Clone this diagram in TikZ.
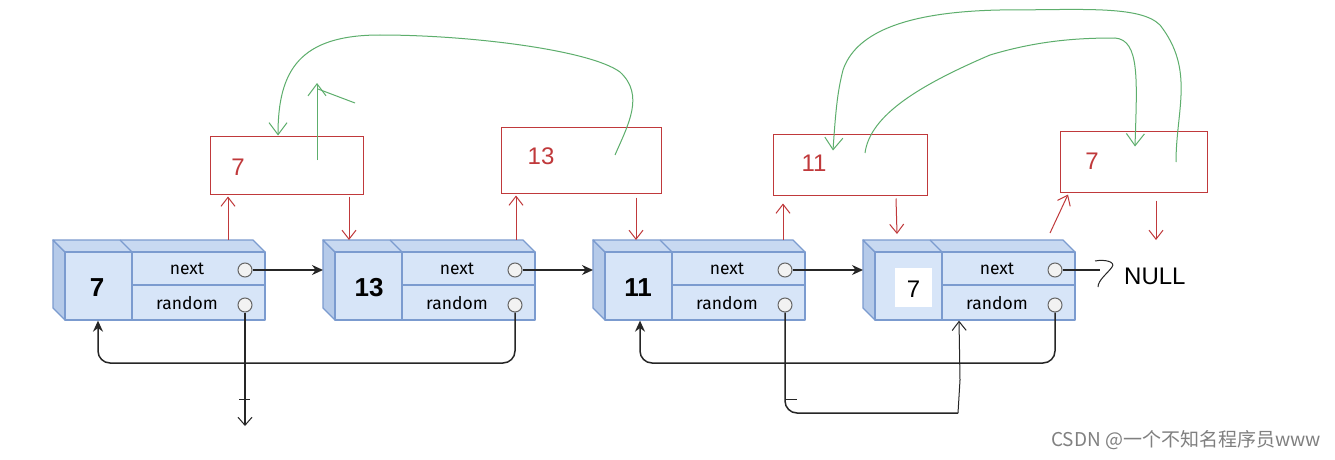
\documentclass[tikz,border=0pt]{standalone}
\usepackage{fontspec}
\setmainfont{Liberation Sans}
\newfontfamily\labfont{Fira Sans}
\newfontfamily\cjkfont{Noto Sans CJK SC}
\usetikzlibrary{arrows.meta}
\definecolor{boxfill}{HTML}{D7E5F8}
\definecolor{topfill}{HTML}{C8D9F1}
\definecolor{sidefill}{HTML}{B5CAE9}
\definecolor{boxline}{HTML}{7B9BCF}
\definecolor{redink}{HTML}{C0393B}
\definecolor{greenink}{HTML}{5DAE6C}
\tikzset{
  facestyle/.style={draw=boxline, line width=1.3pt, line join=round},
  frontface/.style={facestyle, fill=boxfill, rectangle, inner sep=0pt, minimum width=200pt, minimum height=68pt},
  valtext/.style={font=\bfseries\fontsize{26}{26}\selectfont, inner sep=0pt},
  fieldtext/.style={font=\labfont\fontsize{17.5}{17.5}\selectfont, inner sep=0pt},
  ptr/.style={circle, draw=black!60, fill=black!5, line width=1pt, minimum size=14pt, inner sep=0pt},
  blk/.style={draw=black!85, line width=1.5pt, -{Stealth[length=11pt,width=10pt]}},
  redbox/.style={draw=redink, line width=1pt, rectangle, inner sep=0pt},
  redtext/.style={text=redink, font=\fontsize{24}{24}\selectfont, inner sep=0pt},
  redarr/.style={draw=redink, line width=1pt, -{Straight Barb[length=9pt,width=14pt,line width=1pt]}},
  greenarr/.style={draw=greenink, line width=1pt, -{Straight Barb[length=12pt,width=18pt,line width=1pt]}},
}
\newcommand\listnode[3]{%
  \begin{scope}[xshift=#2]
    \filldraw[facestyle, fill=sidefill] (-12,240) -- (0,252) -- (0,320) -- (-12,308) -- cycle;
    \filldraw[facestyle, fill=topfill] (-12,240) -- (188,240) -- (200,252) -- (0,252) -- cycle;
    \draw[facestyle] (55,240) -- (67,252);
    \node[frontface] (#1) at (100,286) {};
    \draw[facestyle] (67,252) -- (67,320);
    \draw[facestyle] (67,285) -- (200,285);
    \node[fieldtext] (#1nt) at (122,269) {next};
    \node[fieldtext] (#1rt) at (122,303) {random};
    \node[ptr] (#1n) at (180,270) {};
    \node[ptr] (#1r) at (180,305) {};
    \coordinate (#1w) at (-12,270);
    \coordinate (#1top) at (100,240);
  \end{scope}
}
\begin{document}
\begin{tikzpicture}[x=1pt,y=-1pt]
\path[use as bounding box, fill=white] (0,0) rectangle (1335,460);

\listnode{n1}{65}{7}
\listnode{n2}{335}{13}
\listnode{n3}{605}{11}
\listnode{n4}{875}{7}
\node[valtext] (n1v) at (97,288) {7};
\node[valtext] (n2v) at (369,288) {13};
\node[valtext] (n3v) at (638,288) {11};
\node[fill=white, minimum width=37pt, minimum height=39pt, inner sep=0pt] (n4bg) at (913.5,287.5) {};
\node[inner sep=0pt, font=\fontsize{24}{24}\selectfont] (n4v) at (913.5,289) {7};

% next pointers
\draw[blk] (n1n) -- (n1n -| n2w);
\draw[blk] (n2n) -- (n2n -| n3w);
\draw[blk] (n3n) -- (n3n -| n4w);
\coordinate (nullend) at (1100,270);
\draw[draw=black!85, line width=1.5pt] (n4n) -- (nullend);
\draw[black!85, line width=1pt] (1095,261) .. controls (1105,259) and (1116,262) .. (1112,267) .. controls (1108,273) and (1098,280) .. (1098,287);
\node[inner sep=0pt, font=\fontsize{24}{24}\selectfont, anchor=west] (null) at (1124,276) {NULL};

% random pointers
\draw[blk, rounded corners=12pt] (n2r) -- (n2r |- 0,363) -- (98,363) -- (n1.south -| 98,0);
\draw[blk, rounded corners=12pt] (n4r) -- (n4r |- 0,363) -- (640,363) -- (n3.south -| 640,0);
\draw[draw=black!85, line width=1.5pt, -{Straight Barb[length=8pt,width=14pt,line width=1pt]}] (n1r) -- (n1r |- 0,426);
\draw[black!85, line width=1pt] (239,399) -- (250,399);
\draw[draw=black!85, line width=1.5pt] (n3r) [rounded corners=12pt] -- (n3r |- 0,413) -- (850,413) [sharp corners] -- (958,413);
\draw[draw=black!85, line width=1pt, -{Straight Barb[length=9pt,width=14pt,line width=1pt]}] (958,413) -- (960,380) -- (n4.south -| 959,0);
\draw[black!85, line width=1pt] (786,399) -- (797,399);

% red boxes
\node[redbox, minimum width=153pt, minimum height=58pt] (r1) at (286.5,165) {};
\node[redbox, minimum width=160pt, minimum height=66pt] (r2) at (581,160) {};
\node[redbox, minimum width=154pt, minimum height=61pt] (r3) at (850,164.5) {};
\node[redbox, minimum width=147pt, minimum height=61pt] (r4) at (1133.5,161.5) {};
\node[redtext] (r1t) at (238,167) {7};
\node[redtext] (r2t) at (541,156) {13};
\node[redtext] (r3t) at (814,163) {11};
\node[redtext] (r4t) at (1092,161) {7};

% red arrows
\draw[redarr] (n1top -| 228,0) -- ([yshift=-2pt]r1.south -| 228,0);
\draw[redarr] ([yshift=-2pt]r1.south -| 349,0) -- (n2top -| 349,0);
\draw[redarr] (n2top -| 516,0) -- ([yshift=-2pt]r2.south -| 516,0);
\draw[redarr] ([yshift=-4pt]r2.south -| 636,0) -- (n3top -| 636,0);
\draw[redarr] (n3top -| 783,0) -- ([yshift=-8pt]r3.south -| 783,0);
\draw[redarr] ([yshift=-3pt]r3.south -| 896,0) -- ([yshift=6pt]n4top -| 897,0);
\draw[redarr] ([yshift=7pt]n4top -| 1050,0) -- ([yshift=-2pt]r4.south -| 1068,0);
\coordinate (r4free) at (1156,240);
\draw[redarr] ([yshift=-8pt]r4.south -| 1156,0) -- (r4free);

% green curves
\coordinate (g1s) at (615,155);
\draw[greenarr] (g1s) .. controls (628,125) and (645,95) .. (620,72)
  .. controls (590,50) and (470,35) .. (380,35)
  .. controls (300,35) and (278,70) .. (r1.north -| 278,0);
\coordinate (g2s) at (317,160);
\draw[greenarr] (g2s) -- (317,83);
\draw[draw=greenink, line width=1pt] (318,89) -- (355,103);
\coordinate (g3s) at (865,153);
\draw[greenarr] (g3s) .. controls (870,115) and (920,85) .. (990,55)
  .. controls (1040,40) and (1080,38) .. (1115,38)
  .. controls (1140,40) and (1137,80) .. ([yshift=-16pt]r4.north -| 1135,0);
\coordinate (g4s) at (1176,162);
\draw[greenarr] (g4s) .. controls (1176,110) and (1195,70) .. (1160,25)
  .. controls (1140,5) and (1080,10) .. (1000,10)
  .. controls (900,12) and (855,35) .. (843,70)
  .. controls (838,90) and (836,105) .. ([yshift=-17pt]r3.north -| 833,0);

% watermark
\node[anchor=east, inner sep=0pt, text=black!50, font=\cjkfont\fontsize{19}{19}\selectfont] (wm) at (1321,440) {CSDN @一个不知名程序员www};
\end{tikzpicture}
\end{document}
